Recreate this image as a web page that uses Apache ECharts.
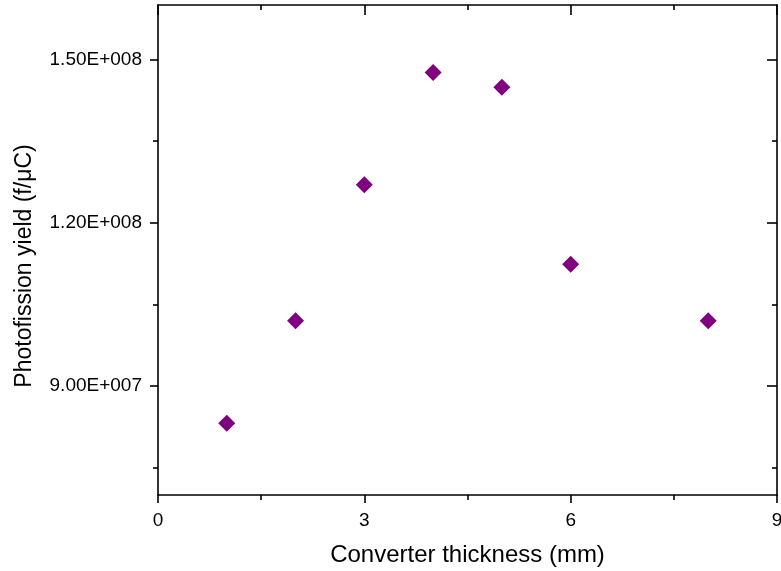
<!DOCTYPE html>
<html>
<head>
<meta charset="utf-8">
<script src="https://cdn.jsdelivr.net/npm/echarts@6/dist/echarts.min.js"></script>
<style>
html,body{margin:0;padding:0;background:#fff;}
#chart{width:781px;height:571px;}
</style>
</head>
<body>
<div id="chart"></div>
<script>
// Data
const thickness = [1, 2, 3, 4, 5, 6, 8];
const yieldValues = [8.32e7, 1.020e8, 1.270e8, 1.476e8, 1.449e8, 1.124e8, 1.020e8];
const xTicks = [0, 3, 6, 9];
const yMajorTicks = [9.0e7, 1.2e8, 1.5e8];
const yMinorTicks = [7.5e7, 1.05e8, 1.35e8];

const FONT = '"Liberation Sans", Arial, sans-serif';

function sci(v) {
  const s = Number(v).toExponential(2); // e.g. 1.50e+8
  const parts = s.split('e');
  const mant = parts[0];
  const expNum = parseInt(parts[1], 10);
  const sign = expNum < 0 ? '-' : '+';
  const e = String(Math.abs(expNum)).padStart(3, '0');
  return mant + 'E' + sign + e;
}

const points = thickness.map((x, i) => [x, yieldValues[i]]);

const lineStyle = { color: '#000', width: 1.6 };
const Y_MIN = 7.0e7, Y_MAX = 1.6e8;

const chart = echarts.init(document.getElementById('chart'), null, { renderer: 'canvas' });
chart.setOption({
  backgroundColor: '#fff',
  animation: false,
  grid: { left: 158, right: 4, top: 5, bottom: 76, containLabel: false, outerBoundsMode: 'none' },
  xAxis: [
    {
      type: 'value', position: 'bottom', min: 0, max: 9, interval: 3,
      axisLine: { show: true, lineStyle: lineStyle },
      axisTick: { show: true, inside: false, length: 8, lineStyle: lineStyle, customValues: xTicks },
      minorTick: { show: true, splitNumber: 2, length: 5, lineStyle: lineStyle },
      axisLabel: { show: true, margin: 16, color: '#000', fontSize: 19, fontFamily: FONT, customValues: xTicks, hideOverlap: false },
      splitLine: { show: false },
      name: 'Converter thickness (mm)', nameLocation: 'middle', nameGap: 48,
      nameTextStyle: { color: '#000', fontSize: 24, fontFamily: FONT }
    },
    {
      type: 'value', position: 'top', min: 0, max: 9, interval: 3,
      axisLine: { show: true, lineStyle: lineStyle },
      axisTick: { show: true, inside: true, length: 10, lineStyle: lineStyle },
      minorTick: { show: true, splitNumber: 2, length: 5, lineStyle: lineStyle },
      axisLabel: { show: false },
      splitLine: { show: false }
    }
  ],
  yAxis: [
    {
      type: 'value', position: 'left', min: Y_MIN, max: Y_MAX,
      axisLine: { show: true, lineStyle: lineStyle },
      axisTick: { show: true, inside: false, length: 8, lineStyle: lineStyle, customValues: yMajorTicks },
      axisLabel: { show: true, margin: 16, color: '#000', fontSize: 19, fontFamily: FONT, customValues: yMajorTicks, formatter: sci },
      splitLine: { show: false },
      name: 'Photofission yield (f/\u03BCC)', nameLocation: 'middle', nameGap: 122,
      nameTextStyle: { color: '#000', fontSize: 23, fontFamily: FONT, padding: [0, 32, 0, 0] }
    },
    {
      type: 'value', position: 'left', min: Y_MIN, max: Y_MAX,
      axisLine: { show: false },
      axisTick: { show: true, inside: false, length: 5, lineStyle: lineStyle, customValues: yMinorTicks },
      axisLabel: { show: false },
      splitLine: { show: false }
    },
    {
      type: 'value', position: 'right', min: Y_MIN, max: Y_MAX,
      axisLine: { show: true, lineStyle: lineStyle },
      axisTick: { show: true, inside: true, length: 10, lineStyle: lineStyle, customValues: yMajorTicks },
      axisLabel: { show: false },
      splitLine: { show: false }
    },
    {
      type: 'value', position: 'right', min: Y_MIN, max: Y_MAX,
      axisLine: { show: false },
      axisTick: { show: true, inside: true, length: 5, lineStyle: lineStyle, customValues: yMinorTicks },
      axisLabel: { show: false },
      splitLine: { show: false }
    }
  ],
  series: [
    {
      type: 'scatter', xAxisIndex: 0, yAxisIndex: 0,
      symbol: 'diamond', symbolSize: 17,
      itemStyle: { color: '#800080', opacity: 1 },
      data: points
    }
  ]
});
</script>
</body>
</html>
